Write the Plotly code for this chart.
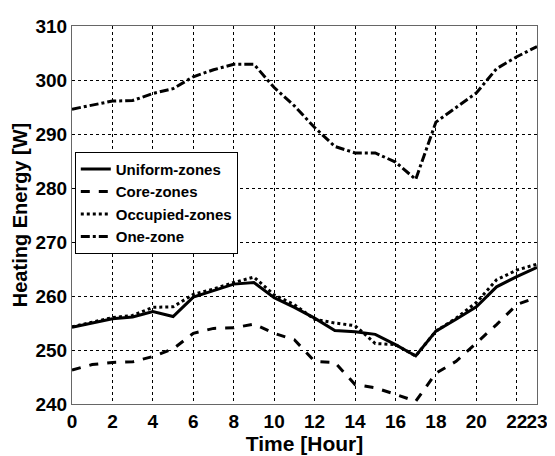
import plotly.graph_objects as go

hours = list(range(24))
uniform_zones = [254.2, 255.0, 255.8, 256.1, 257.1, 256.2, 259.8, 261.0, 262.2, 262.5, 259.7, 257.9,
                 255.9, 253.6, 253.4, 252.9, 251.0, 248.9, 253.5, 255.7, 258.0, 261.7, 263.6, 265.3]
core_zones = [246.3, 247.3, 247.7, 247.8, 248.8, 250.2, 253.1, 254.0, 254.1, 254.8, 253.1, 251.9,
              247.9, 247.7, 243.6, 243.0, 241.8, 240.5, 245.7, 247.9, 251.3, 254.7, 258.4, 259.8]
occupied_zones = [254.3, 255.2, 256.0, 256.4, 257.9, 258.0, 260.3, 261.3, 262.5, 263.5, 260.2, 258.4,
                  255.7, 255.0, 254.5, 251.2, 251.0, 248.9, 253.5, 255.9, 258.8, 263.0, 264.8, 265.9]
one_zone = [294.6, 295.3, 296.1, 296.2, 297.5, 298.4, 300.6, 301.9, 302.9, 302.9, 298.6, 295.2,
            291.2, 287.7, 286.5, 286.5, 284.8, 281.6, 292.2, 294.9, 297.6, 302.1, 304.3, 306.2]

x_ticks = [0, 2, 4, 6, 8, 10, 12, 14, 16, 18, 20, 22, 23]
y_ticks = [240, 250, 260, 270, 280, 290, 300, 310]

FONT = "Liberation Sans, Arial, sans-serif"

fig = go.Figure()
series = [
    ("Uniform-zones", uniform_zones, "solid"),
    ("Core-zones", core_zones, "dash"),
    ("Occupied-zones", occupied_zones, "dot"),
    ("One-zone", one_zone, "dashdot"),
]
for name, vals, dash in series:
    fig.add_trace(go.Scatter(x=hours, y=vals, mode="lines", name=name,
                             line=dict(color="black", width=3, dash=dash)))

fig.update_layout(
    width=547, height=448,
    margin=dict(l=64, r=18, t=18, b=52),
    paper_bgcolor="white", plot_bgcolor="white",
    font=dict(family=FONT, color="black"),
    showlegend=True,
    legend=dict(x=0.006, y=0.667, xanchor="left", yanchor="top",
                bgcolor="white", bordercolor="black", borderwidth=1,
                font=dict(family=FONT, size=15, color="black", weight="bold"),
                tracegroupgap=0),
)
fig.update_xaxes(
    range=[0, 23], tickvals=x_ticks, ticktext=[str(t) for t in x_ticks],
    tickangle=0,
    showgrid=True, gridcolor="black", griddash="dot", gridwidth=1,
    showline=True, linecolor="#666666", linewidth=1, mirror=True,
    zeroline=False, ticks="",
    tickfont=dict(family=FONT, size=19, color="black", weight="bold"),
    title=dict(text="Time [Hour]", font=dict(family=FONT, size=21, color="black", weight="bold"), standoff=2),
    automargin=False,
)
fig.update_yaxes(
    range=[240, 310], tickvals=y_ticks,
    showgrid=True, gridcolor="black", griddash="dot", gridwidth=1,
    showline=True, linecolor="#666666", linewidth=1, mirror=True,
    zeroline=False, ticks="",
    tickfont=dict(family=FONT, size=19, color="black", weight="bold"),
    title=dict(text="Heating Energy [W]", font=dict(family=FONT, size=20, color="black", weight="bold"), standoff=2),
    automargin=False,
)

fig.write_html("out.html")
